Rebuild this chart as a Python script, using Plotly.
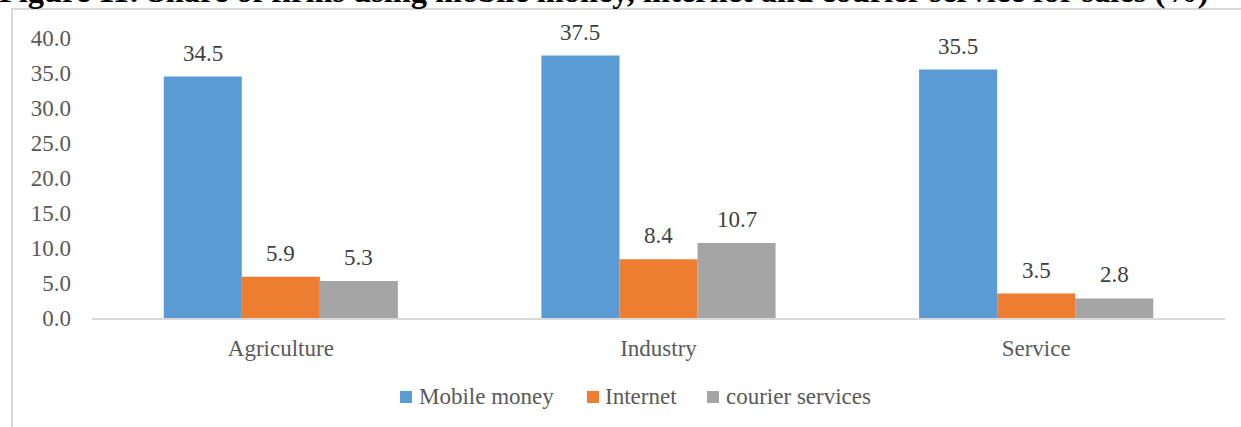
import plotly.graph_objects as go

# Share of firms using each sales channel, by sector (%)
sectors = ["Agriculture", "Industry", "Service"]
mobile_money = [34.5, 37.5, 35.5]
internet = [5.9, 8.4, 3.5]
courier = [5.3, 10.7, 2.8]

series = [
    ("Mobile money", mobile_money, "#5b9bd5"),
    ("Internet", internet, "#ed7d31"),
    ("courier services", courier, "#a5a5a5"),
]

W, H = 1241, 427
ML, MR, MT, MB = 92, 16, 38, 109
PW, PH = W - ML - MR, H - MT - MB
FONT = "Liberation Serif"
BARGAP = 0.38


def px_x(p):
    return (p - ML) / PW


def px_y(p):
    return (H - MB - p) / PH


fig = go.Figure()
for name, vals, color in series:
    fig.add_trace(go.Bar(
        name=name,
        x=list(range(len(sectors))),
        y=vals,
        marker=dict(color=color, line=dict(width=0)),
        showlegend=False,
    ))

# value labels above each bar
bar_w = (1 - BARGAP) / len(series)
annotations = []
for i, (name, vals, color) in enumerate(series):
    offset = (i - (len(series) - 1) / 2) * bar_w
    for j, v in enumerate(vals):
        annotations.append(dict(
            x=j + offset, y=v, xref="x", yref="y",
            text=f"{v:.1f}", showarrow=False,
            yanchor="bottom", yshift=9,
            font=dict(family=FONT, size=23, color="#404040"),
        ))

# legend drawn as swatches + labels below the axis
legend_items = [(400, 417), (587, 603), (707, 724)]
shapes = []
for (sx, tx), (name, vals, color) in zip(legend_items, series):
    shapes.append(dict(
        type="rect", xref="paper", yref="paper",
        x0=px_x(sx), x1=px_x(sx + 12),
        y0=px_y(403), y1=px_y(391),
        fillcolor=color, line=dict(width=0),
    ))
    annotations.append(dict(
        x=px_x(tx), y=px_y(397), xref="paper", yref="paper",
        text=name, showarrow=False, xanchor="left", yanchor="middle",
        font=dict(family=FONT, size=23, color="#595959"),
    ))

# outer chart frame
shapes.append(dict(
    type="rect", xref="paper", yref="paper",
    x0=px_x(12), x1=px_x(1260),
    y0=px_y(450), y1=px_y(9),
    line=dict(color="#d9d9d9", width=2),
    fillcolor="rgba(0,0,0,0)",
    layer="below",
))

annotations.append(dict(
    text="<b>Figure 11: Share of firms using mobile money, internet and courier service for sales (%)</b>",
    xref="paper", yref="paper",
    x=px_x(-3), xanchor="left",
    y=px_y(11), yanchor="bottom",
    showarrow=False,
    font=dict(family=FONT, size=32.4, color="#000000"),
))

fig.update_layout(
    width=W,
    height=H,
    margin=dict(l=ML, r=MR, t=MT, b=MB),
    paper_bgcolor="white",
    plot_bgcolor="white",
    barmode="group",
    bargap=BARGAP,
    bargroupgap=0,
    showlegend=False,
    xaxis=dict(
        range=[-0.5, len(sectors) - 0.5],
        tickvals=list(range(len(sectors))),
        ticktext=sectors,
        showgrid=False,
        zeroline=False,
        showline=True,
        linecolor="#d9d9d9",
        linewidth=2,
        ticks="",
        ticklabelstandoff=8,
        tickfont=dict(family=FONT, size=23, color="#595959"),
    ),
    yaxis=dict(
        range=[0, 40],
        tickvals=[0, 5, 10, 15, 20, 25, 30, 35, 40],
        tickformat=".1f",
        showgrid=False,
        zeroline=False,
        showline=False,
        ticks="",
        ticklabelstandoff=20,
        tickfont=dict(family=FONT, size=23, color="#595959"),
    ),
    shapes=shapes,
    annotations=annotations,
)

fig.write_html("out.html")
